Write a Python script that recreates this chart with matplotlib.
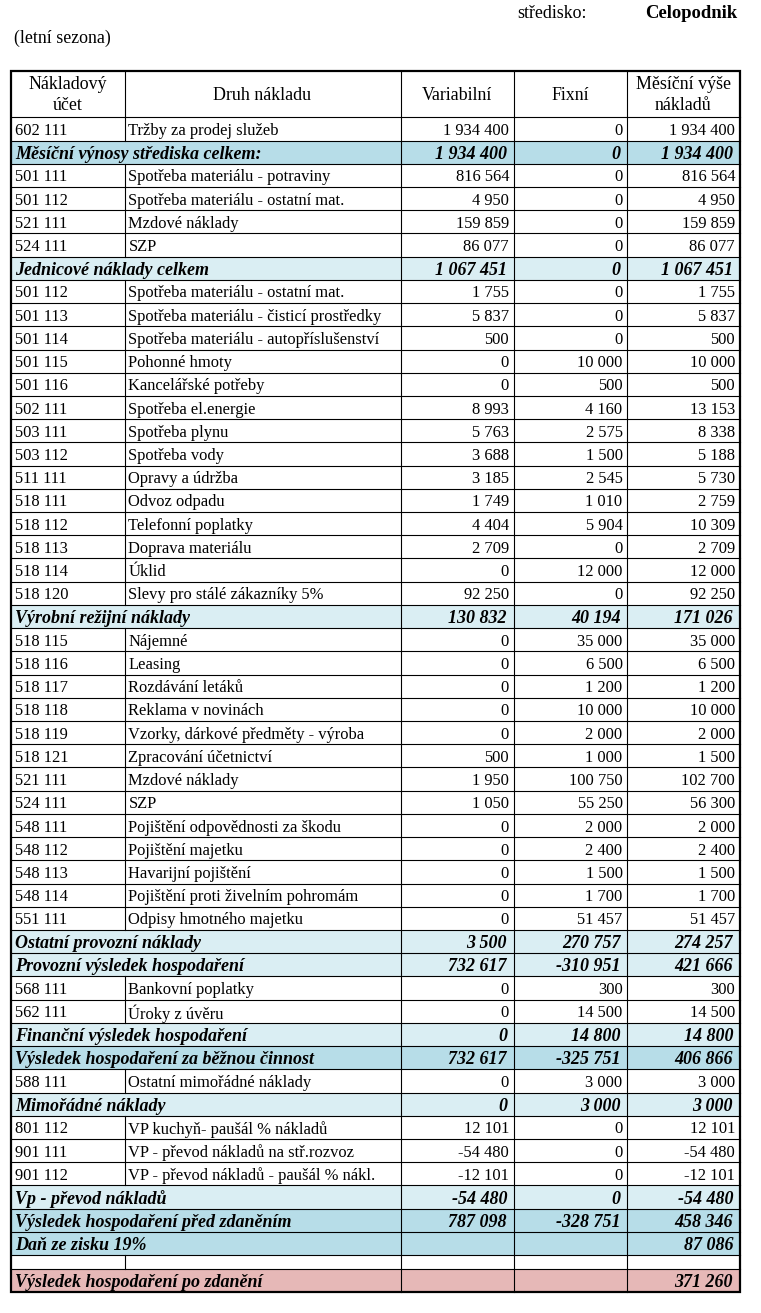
import matplotlib.pyplot as plt
from matplotlib.patches import Rectangle

# table data (None = empty cell)
accounts = ["602 111", "", "501 111", "501 112", "521 111", "524 111", "",
            "501 112", "501 113", "501 114", "501 115", "501 116", "502 111", "503 111",
            "503 112", "511 111", "518 111", "518 112", "518 113", "518 114", "518 120", "",
            "518 115", "518 116", "518 117", "518 118", "518 119", "518 121", "521 111",
            "524 111", "548 111", "548 112", "548 113", "548 114", "551 111", "", "",
            "568 111", "562 111", "", "", "588 111", "", "801 112", "901 111", "901 112",
            "", "", "", "", ""]
names = ["Tržby za prodej služeb", "Měsíční výnosy střediska celkem:",
         "Spotřeba materiálu - potraviny", "Spotřeba materiálu - ostatní mat.",
         "Mzdové náklady", "SZP", "Jednicové náklady celkem",
         "Spotřeba materiálu - ostatní mat.", "Spotřeba materiálu - čisticí prostředky",
         "Spotřeba materiálu - autopříslušenství", "Pohonné hmoty", "Kancelářské potřeby",
         "Spotřeba el.energie", "Spotřeba plynu", "Spotřeba vody", "Opravy a údržba",
         "Odvoz odpadu", "Telefonní poplatky", "Doprava materiálu", "Úklid",
         "Slevy pro stálé zákazníky 5%", "Výrobní režijní náklady",
         "Nájemné", "Leasing", "Rozdávání letáků", "Reklama v novinách",
         "Vzorky, dárkové předměty - výroba", "Zpracování účetnictví", "Mzdové náklady",
         "SZP", "Pojištění odpovědnosti za škodu", "Pojištění majetku",
         "Havarijní pojištění", "Pojištění proti živelním pohromám",
         "Odpisy hmotného majetku", "Ostatní provozní náklady",
         "Provozní výsledek hospodaření", "Bankovní poplatky", "Úroky z úvěru",
         "Finanční výsledek hospodaření", "Výsledek hospodaření za běžnou činnost",
         "Ostatní mimořádné náklady", "Mimořádné náklady", "VP kuchyň- paušál % nákladů",
         "VP - převod nákladů na stř.rozvoz", "VP - převod nákladů - paušál % nákl.",
         "Vp - převod nákladů", "Výsledek hospodaření před zdaněním",
         "Daň ze zisku 19%", "", "Výsledek hospodaření po zdanění"]
variabilni = [1934400, 1934400, 816564, 4950, 159859, 86077, 1067451,
              1755, 5837, 500, 0, 0, 8993, 5763, 3688, 3185, 1749, 4404, 2709, 0, 92250, 130832,
              0, 0, 0, 0, 0, 500, 1950, 1050, 0, 0, 0, 0, 0, 3500, 732617,
              0, 0, 0, 732617, 0, 0, 12101, -54480, -12101, -54480, 787098,
              None, None, None]
fixni = [0, 0, 0, 0, 0, 0, 0,
         0, 0, 0, 10000, 500, 4160, 2575, 1500, 2545, 1010, 5904, 0, 12000, 0, 40194,
         35000, 6500, 1200, 10000, 2000, 1000, 100750, 55250, 2000, 2400, 1500, 1700, 51457,
         270757, -310951, 300, 14500, 14800, -325751, 3000, 3000, 0, 0, 0, 0, -328751,
         None, None, None]
mesicni = [1934400, 1934400, 816564, 4950, 159859, 86077, 1067451,
           1755, 5837, 500, 10000, 500, 13153, 8338, 5188, 5730, 2759, 10309, 2709, 12000,
           92250, 171026,
           35000, 6500, 1200, 10000, 2000, 1500, 102700, 56300, 2000, 2400, 1500, 1700, 51457,
           274257, 421666, 300, 14500, 14800, 406866, 3000, 3000, 12101, -54480, -12101,
           -54480, 458346, 87086, None, 371260]
# row style: d = plain data row, l = light subtotal, t = dark total, b = blank, p = final
styles = ["d", "t", "d", "d", "d", "d", "l"] + ["d"] * 14 + ["l"] + ["d"] * 13 + \
         ["l", "l", "d", "d", "l", "t", "d", "l", "d", "d", "d", "l", "t", "t", "b", "p"]

fills = {"l": "#daeef3", "t": "#b7dde8", "p": "#e6b8b7"}
headers = ["Nákladový\núčet", "Druh nákladu", "Variabilní", "Fixní", "Měsíční výše\nnákladů"]
col_x = [11, 124.5, 400.5, 513.5, 627, 739.5]

plt.rcParams['font.family'] = ['Liberation Serif', 'DejaVu Serif']

def fmt(v):
    if v is None:
        return ""
    s = f"{abs(v):,}".replace(",", " ")
    return ("-" if v < 0 else "") + s

fig = plt.figure(figsize=(7.61, 13.13), dpi=100)
ax = fig.add_axes([0, 0, 1, 1])
ax.set_xlim(0, 761)
ax.set_ylim(1313, 0)
ax.axis('off')

fs = 11.9      # body text
fs_h = 12.9    # header / title text
fs_b = 13.0    # bold italic totals

ax.text(517, 14, "středisko:", fontsize=fs_h, va='center', ha='left')
ax.text(737, 14, "Celopodnik", fontsize=fs_h + 0.5, fontweight='bold', va='center', ha='right')
ax.text(14, 38, "(letní sezona)", fontsize=fs_h, va='center', ha='left')

top = 70.8
head_h = 46.5
row_h = 23.22
blank_h = 14
lw_in = 0.8

# header
for j, h in enumerate(headers):
    ax.text((col_x[j] + col_x[j + 1]) / 2, top + head_h / 2 + 1, h, fontsize=fs_h,
            ha='center', va='center', linespacing=1.35)
ax.plot([col_x[0], col_x[-1]], [top + head_h] * 2, color='black', lw=lw_in)
for x in col_x[1:-1]:
    ax.plot([x, x], [top, top + head_h], color='black', lw=lw_in)

y = top + head_h
for i, st in enumerate(styles):
    h = blank_h if st == "b" else row_h
    if st in fills:
        ax.add_patch(Rectangle((col_x[0], y), col_x[-1] - col_x[0], h,
                               facecolor=fills[st], edgecolor='none', zorder=0))
    yc = y + h / 2 + 2
    if st in ("d", "b"):
        ax.text(col_x[0] + 4, yc, accounts[i], fontsize=fs, ha='left', va='center')
        ax.text(col_x[1] + 4, yc, names[i], fontsize=fs, ha='left', va='center')
        for j, vals in enumerate([variabilni, fixni, mesicni]):
            ax.text(col_x[j + 3] - 4.5, yc, fmt(vals[i]), fontsize=fs,
                    ha='right', va='center')
        ax.plot([col_x[1], col_x[1]], [y, y + h], color='black', lw=lw_in)
    else:
        ax.text(col_x[0] + 4, yc, names[i], fontsize=fs_b, fontweight='bold',
                fontstyle='italic', ha='left', va='center')
        for j, vals in enumerate([variabilni, fixni, mesicni]):
            ax.text(col_x[j + 3] - 6.5, yc, fmt(vals[i]), fontsize=fs_b,
                    fontweight='bold', fontstyle='italic', ha='right', va='center')
    for x in col_x[2:-1]:
        ax.plot([x, x], [y, y + h], color='black', lw=lw_in)
    y += h
    if i < len(styles) - 1:
        ax.plot([col_x[0], col_x[-1]], [y, y], color='black', lw=lw_in)

# outer border
ax.add_patch(Rectangle((col_x[0], top), col_x[-1] - col_x[0], y - top,
                       facecolor='none', edgecolor='black', lw=1.6, zorder=5))

fig.savefig("out.png", dpi=100)
